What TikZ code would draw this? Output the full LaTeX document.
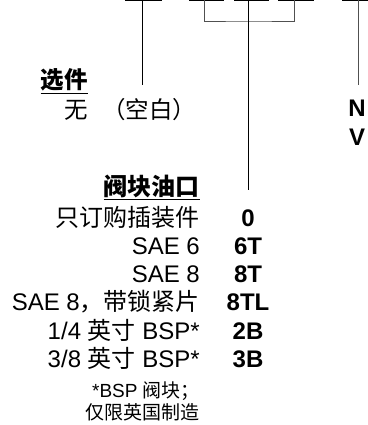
\documentclass[tikz,border=0pt]{standalone}
\usepackage{fontspec}
\setmainfont{Liberation Sans}
\newfontfamily\cjk{Noto Sans CJK SC}
\usepackage{xcolor}
\usepackage{tikz}
\usetikzlibrary{positioning}
\definecolor{gris}{HTML}{505050}

\begin{document}
\begin{tikzpicture}[x=1pt, y=-1pt,
  etiq/.style={anchor=base east, inner sep=0pt, font=\fontsize{24}{27}\selectfont},
  cod/.style={anchor=base, inner sep=0pt, font=\fontsize{24}{27}\selectfont\bfseries},
  nota/.style={anchor=base east, inner sep=0pt, font=\fontsize{19}{21}\selectfont},
  linea/.style={line width=1pt}]
  \useasboundingbox (0,0) rectangle (367,425);
  % barras de arriba
  \foreach \xa/\xb in {125/162, 189/224, 234/269, 278/314, 342/370}
    \draw[linea] (\xa,0.6) -- (\xb,0.6);
  \coordinate (sel0) at (142,0);   \coordinate (sel1) at (142,85);
  \coordinate (blo0) at (248,0);   \coordinate (blo1) at (248,190);
  \coordinate (blq) at (248,22);
  \coordinate (bra) at (204,0);    \coordinate (brb) at (294,0);
  \coordinate (jun0) at (358,0);   \coordinate (jun1) at (358,85);
  \draw[linea] (sel0) -- (sel1);
  \draw[linea, gris] (bra) |- (blq) -| (brb);
  \draw[linea] (blo0) -- (blo1);
  \draw[linea, gris] (jun0) -- (jun1);

  % opciones
  \node[etiq, font=\fontsize{23.5}{26}\selectfont\cjk\bfseries] (sel) at (88,89) {选件};
  \draw[line width=1.2pt] ([yshift=-2pt]sel.south west) -- ([yshift=-2pt]sel.south east);
  \node[etiq, font=\fontsize{23.5}{26}\selectfont] (nin) at (88,118) {\cjk 无};
  \node[etiq, anchor=base west, font=\fontsize{23.5}{26}\selectfont] (blanco) at (102,118) {\cjk （空白）};
  \node[cod] (cn) at (357,117) {N};
  \node[cod] (cv) at (357,145) {V};

  % lumbreras
  \node[etiq, font=\fontsize{24}{26}\selectfont\cjk\bfseries] (blo) at (200,195) {阀块油口};
  \draw[line width=1.2pt] ([yshift=-2pt]blo.south west) -- ([yshift=-2pt]blo.south east);
  \foreach \t/\c [count=\i from 0] in
    {{\cjk 只订购插装件}/0, SAE 6/6T, SAE 8/8T, {SAE 8{\cjk ，带锁紧片}}/8TL,
     {1/4 {\cjk 英寸} BSP*}/2B, {3/8 {\cjk 英寸} BSP*}/3B} {
    \node[etiq] (e\i) at (200,226+28.3*\i) {\t};
    \node[cod] (c\i) at (248,226+28.3*\i) {\c};
  }
  \node[nota] (n1) at (200,397) {*BSP {\cjk 阀块；}};
  \node[nota] (n2) at (200,419) {\cjk 仅限英国制造};
\end{tikzpicture}
\end{document}
